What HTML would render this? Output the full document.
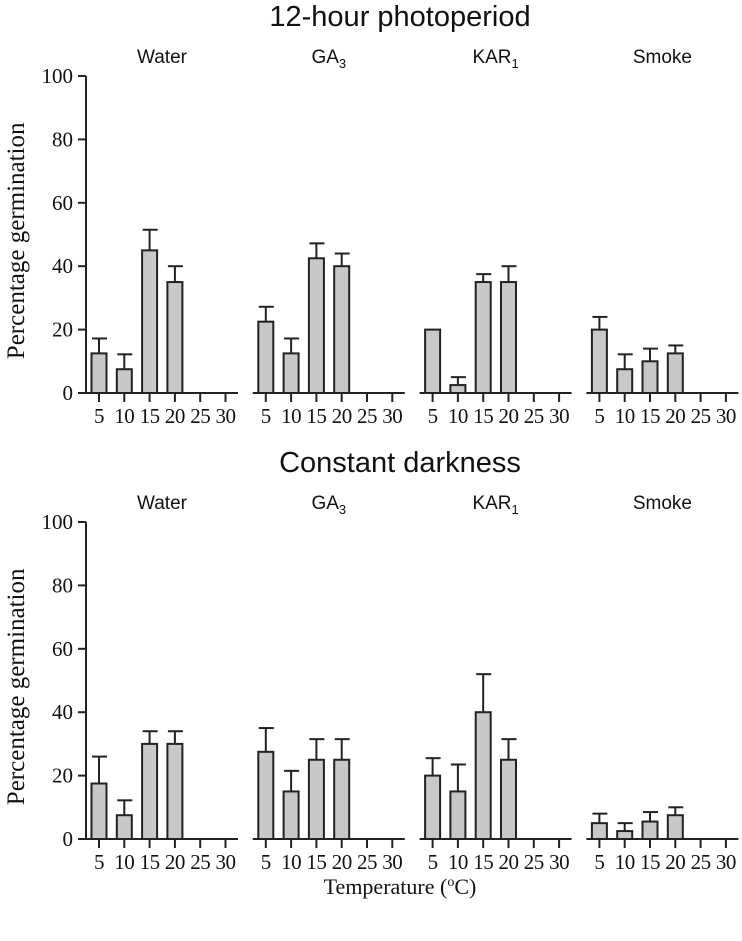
<!DOCTYPE html>
<html><head><meta charset="utf-8"><style>
body{margin:0;background:#fff}
svg text{fill:#111}
.sans{font-family:"Liberation Sans",sans-serif}
.serif{font-family:"Liberation Serif",serif}
</style></head><body>
<svg id="c" width="742" height="936" xmlns="http://www.w3.org/2000/svg"></svg>
<script>
const temps = ["5","10","15","20","25","30"];
const treatments = ["Water","GA","KAR","Smoke"];
const subs = ["","3","1",""];
const yTicks = [0,20,40,60,80,100];
const lightVals = [[12.5,7.5,45,35],[22.5,12.5,42.5,40],[20,2.5,35,35],[20,7.5,10,12.5]];
const lightErr = [[4.7,4.7,6.5,5],[4.7,4.7,4.7,4],[0,2.5,2.5,5],[4,4.7,4,2.5]];
const darkVals = [[17.5,7.5,30,30],[27.5,15,25,25],[20,15,40,25],[5,2.5,5.5,7.5]];
const darkErr = [[8.5,4.7,4,4],[7.5,6.5,6.5,6.5],[5.5,8.5,12,6.5],[3,2.5,3,2.5]];

const svg = document.getElementById('c');
const NS = 'http://www.w3.org/2000/svg';
function mk(tag, attrs, parent){const e=document.createElementNS(NS,tag);for(const k in attrs)e.setAttribute(k,attrs[k]);(parent||svg).appendChild(e);return e;}

function drawBlock(y0, title, vals, errs, key){
  const yScale = v => y0 - v*3.17;
  const xScale = (p,i) => 99 + p*166.8 + i*25.3;
  const g = mk('g',{});
  
  
  const t = mk('text',{x:400,y:y0-367,'text-anchor':'middle','font-size':29,class:'sans'},g);
  t.textContent = title;
  
  
  const ya = mk('line',{x1:86,x2:86,y1:yScale(100),y2:y0,stroke:'#222','stroke-width':2},g);
  
  
  yTicks.forEach(v=>{
    mk('line',{x1:78,x2:86,y1:yScale(v),y2:yScale(v),stroke:'#222','stroke-width':2},g);
    const l = mk('text',{x:73,y:yScale(v)+7,'text-anchor':'end','font-size':21,class:'serif'},g);
    l.textContent = v;
    
    
  });
  const yt = mk('text',{transform:`translate(24,${yScale(48)}) rotate(-90)`,'text-anchor':'middle','font-size':25,class:'serif'},g);
  yt.textContent = 'Percentage germination';
  
  
  treatments.forEach((tr,p)=>{
    const x0 = xScale(p,0);
    const pt = mk('text',{x:x0+63,y:y0-330,'text-anchor':'middle','font-size':19,class:'sans'},g);
    pt.textContent = tr;
    if(subs[p]){const s=mk('tspan',{'font-size':13,dy:5},pt);s.textContent=subs[p];}
    
    
    const xa = mk('line',{x1:x0-13,x2:x0+139,y1:y0,y2:y0,stroke:'#222','stroke-width':2},g);
    
    
    temps.forEach((tm,i)=>{
      const x = xScale(p,i);
      mk('line',{x1:x,x2:x,y1:y0,y2:y0+9,stroke:'#222','stroke-width':2},g);
      const l = mk('text',{x:x,y:y0+30,'text-anchor':'middle','font-size':21,'letter-spacing':-0.5,class:'serif'},g);
      l.textContent = tm;
      
      
    });
    vals[p].forEach((v,i)=>{
      const x = xScale(p,i);
      const e = errs[p][i];
      if(e>0){
        mk('line',{x1:x,x2:x,y1:yScale(v),y2:yScale(v+e),stroke:'#222','stroke-width':2},g);
        mk('line',{x1:x-7,x2:x+8,y1:yScale(v+e),y2:yScale(v+e),stroke:'#222','stroke-width':2},g);
      }
      const b = mk('rect',{x:x-7.5,y:yScale(v),width:15,height:y0-yScale(v),fill:'#c8c8c8',stroke:'#222','stroke-width':2},g);
      
      
    });
  });
}
drawBlock(393,'12-hour photoperiod',lightVals,lightErr,'photoperiod');
drawBlock(839,'Constant darkness',darkVals,darkErr,'darkness');
const xt = mk('text',{x:400,y:894,'text-anchor':'middle','font-size':22,class:'serif'});
xt.innerHTML = 'Temperature (<tspan font-size="14" dy="-8">o</tspan><tspan dy="8">C)</tspan>';


</script>
</body></html>
